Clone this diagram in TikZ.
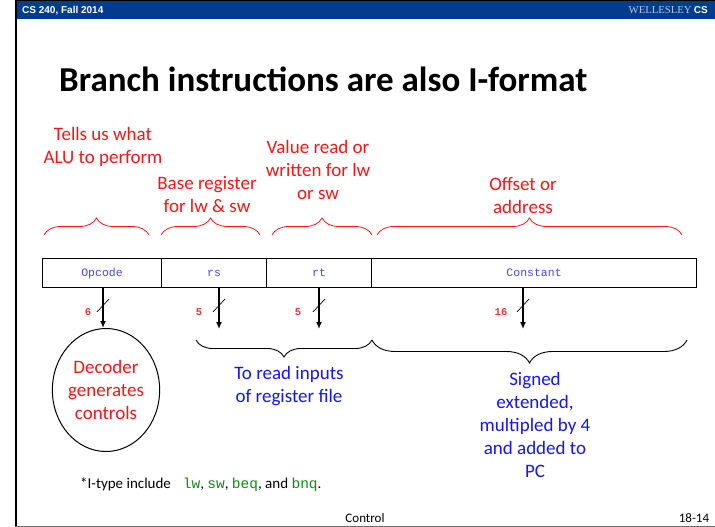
\documentclass[tikz,border=0pt]{standalone}
\usepackage{fontspec}
\setmainfont{Carlito}
\newfontfamily\hdrsans{Liberation Sans}
\newfontfamily\hdrserif{Liberation Serif}
\newfontfamily\codefont{Liberation Mono}
\usetikzlibrary{shapes.geometric,decorations.pathreplacing,arrows.meta}
\definecolor{hdrblue}{RGB}{2,60,140}
\definecolor{txtred}{RGB}{255,20,20}
\definecolor{txtblue}{RGB}{20,20,255}
\definecolor{fldblue}{RGB}{70,70,255}
\definecolor{numred}{RGB}{255,50,50}
\definecolor{codegreen}{RGB}{20,135,20}
\definecolor{wellgray}{RGB}{185,196,220}
\definecolor{footgray}{RGB}{110,110,110}
\begin{document}
\begin{tikzpicture}[x=1pt,y=-1pt,
  redlbl/.style={text=txtred, align=center, font=\fontsize{19}{23}\selectfont, inner sep=0},
  bluelbl/.style={text=txtblue, align=center, font=\fontsize{19}{23}\selectfont, inner sep=0},
  field/.style={draw, line width=1.1pt, minimum height=29pt, inner sep=0, anchor=north west, text=fldblue, font=\codefont\fontsize{11.5}{12}\selectfont},
  numlbl/.style={text=numred, font=\codefont\bfseries\fontsize{10.5}{12}\selectfont, inner sep=0},
  topbrace/.style={draw=txtred, line width=0.8pt, decorate, decoration={brace, amplitude=17pt}},
  botbrace/.style={draw=black, line width=0.9pt, decorate, decoration={brace, amplitude=#1}},
  bus/.style={line width=1.5pt, -{Latex[length=7pt,width=6pt]}},
  slashmark/.style={line width=0.7pt},
  codetxt/.style={},
]
\useasboundingbox (0,0) rectangle (715,527);
% header
\fill[hdrblue] (15,0) rectangle (715,19.5);
\draw[line width=1pt] (15,0.5) -- (715,0.5);
\node[anchor=west, text=white, font=\hdrsans\bfseries\fontsize{10}{12}\selectfont, inner sep=0] (hdrl) at (22,10.5) {CS 240, Fall 2014};
\node[anchor=east, inner sep=0, font=\fontsize{10}{12}\selectfont] (hdrr) at (708,10.5) {\textcolor{wellgray}{\hdrserif\fontsize{10.7}{12}\selectfont WELLESLEY} \textcolor{white}{\hdrsans\bfseries CS}};
\draw[line width=1.7pt] (15.8,0) -- (15.8,527);
\draw[footgray, line width=1.3pt] (15,526.3) -- (715,526.3);
% title
\node[anchor=base west, inner sep=0, font=\bfseries\fontsize{35}{40}\selectfont] (title) at (59,92) {Branch instructions are also I-format};
% top labels
\node[redlbl] (l1) at (103,147) {Tells us what\\ALU to perform};
\node[redlbl] (l2) at (207,195) {Base register\\for lw \& sw};
\node[redlbl] (l3) at (318,170) {Value read or\\written for lw\\or sw};
\node[redlbl] (l4) at (523,196) {Offset or\\address};
% top braces
\draw[topbrace] (44,235) -- (149,235);
\draw[topbrace] (161,235) -- (260,235);
\draw[topbrace] (272,235) -- (372,235);
\draw[topbrace] (377,235) -- (682,235);
% fields
\node[field, minimum width=119pt] (opcode) at (42,258) {Opcode};
\node[field, minimum width=105pt] (rs) at (161,258) {rs};
\node[field, minimum width=105pt] (rt) at (266,258) {rt};
\node[field, minimum width=325pt] (const) at (371,258) {Constant};
% ellipse
\node[ellipse, draw, line width=1pt, minimum width=100pt, minimum height=123pt, redlbl] (dec) at (106,390) {Decoder\\generates\\controls};
% arrows
\coordinate (o1) at (103,287);
\coordinate (o2) at (219,287);
\coordinate (o3) at (319,287);
\coordinate (o4) at (523,287);
\coordinate (e2) at (219,329);
\coordinate (e3) at (319,329);
\coordinate (e4) at (523,329);
\draw[bus] (o1) -- (dec.north -| o1);
\draw[bus] (o2) -- (e2);
\draw[bus] (o3) -- (e3);
\draw[bus] (o4) -- (e4);
\draw[slashmark] (97,312) -- (109,299);
\draw[slashmark] (213,312) -- (225,299);
\draw[slashmark] (313,312) -- (325,299);
\draw[slashmark] (517,312) -- (529,299);
\node[numlbl] (n1) at (88,312) {6};
\node[numlbl] (n2) at (199,312) {5};
\node[numlbl] (n3) at (298,312) {5};
\node[numlbl] (n4) at (501,312) {16};
% bottom braces
\draw[botbrace=17pt] (372,340) -- (196,340);
\draw[botbrace=23pt] (687,340) -- (372,340);
\node[bluelbl] (b1) at (289,386) {To read inputs\\of register file};
\node[bluelbl] (b2) at (535,425) {Signed\\extended,\\multipled by 4\\and added to\\PC};
% footnote
\node[anchor=base west, inner sep=0, font=\fontsize{15}{18}\selectfont] (foot) at (80,488) {*I-type include\hspace{0.8em}{\codefont\fontsize{14.5}{16}\selectfont\color{codegreen}lw}, {\codefont\fontsize{14.5}{16}\selectfont\color{codegreen}sw}, {\codefont\fontsize{14.5}{16}\selectfont\color{codegreen}beq}, and {\codefont\fontsize{14.5}{16}\selectfont\color{codegreen}bnq}.};
\node[inner sep=0, font=\fontsize{13}{15}\selectfont] (ctl) at (365,518) {Control};
\node[inner sep=0, font=\fontsize{13}{15}\selectfont] (pg) at (694,518) {18-14};
\end{tikzpicture}
\end{document}
